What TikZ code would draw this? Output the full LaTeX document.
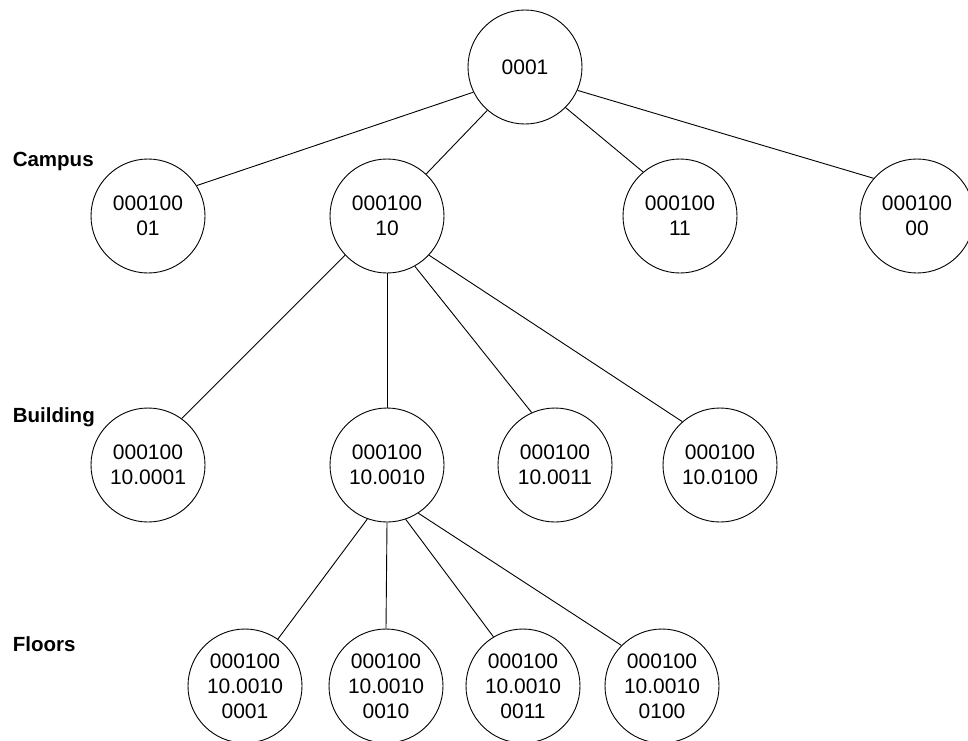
\documentclass[tikz,border=0pt]{standalone}
\usepackage{fontspec}
\setmainfont{Liberation Sans}
\begin{document}
\begin{tikzpicture}[x=1pt,y=-1pt,line width=0.9pt]
        \tikzset{
          addr/.style={circle, draw, minimum size=114pt, inner sep=0pt, align=center, font=\fontsize{21}{25}\selectfont},
          lvl/.style={anchor=base west, font=\fontsize{20.5}{24}\selectfont\bfseries}
        }
        \useasboundingbox (0,0) rectangle (968,740);

        % level labels
        \node[lvl] (campus) at (9,166) {Campus};
        \node[lvl] (building) at (9,422) {Building};
        \node[lvl] (floors) at (9,651) {Floors};

        % root
        \node[addr] (root) at (525,67) {0001};

        % campus
        \node[addr] (c1) at (148,216) {000100\\01};
        \node[addr] (c2) at (387,216) {000100\\10};
        \node[addr] (c3) at (680,216) {000100\\11};
        \node[addr] (c4) at (917,216) {000100\\00};

        % building
        \node[addr] (b1) at (148,465) {000100\\10.0001};
        \node[addr] (b2) at (387,465) {000100\\10.0010};
        \node[addr] (b3) at (555,465) {000100\\10.0011};
        \node[addr] (b4) at (720,465) {000100\\10.0100};

        % floors
        \node[addr] (f1) at (245,686) {000100\\10.0010\\0001};
        \node[addr] (f2) at (386,686) {000100\\10.0010\\0010};
        \node[addr] (f3) at (523,686) {000100\\10.0010\\0011};
        \node[addr] (f4) at (662,686) {000100\\10.0010\\0100};

        \draw (root.206.6) -- (c1.32.5);
        \draw (root.229) -- (c2.47);
        \draw (root.315.5) -- (c3.130);
        \draw (root.336.5) -- (c4.139);

        \draw (c2.223) -- (b1.54.5);
        \draw (c2.270) -- (b2.90);
        \draw (c2.299) -- (b3.114);
        \draw (c2.317) -- (b4.131);

        \draw (b2.250) -- (f1.55.5);
        \draw (b2.270) -- (f2.90);
        \draw (b2.289) -- (f3.121);
        \draw (b2.303) -- (f4.135);
      \end{tikzpicture}
\end{document}
